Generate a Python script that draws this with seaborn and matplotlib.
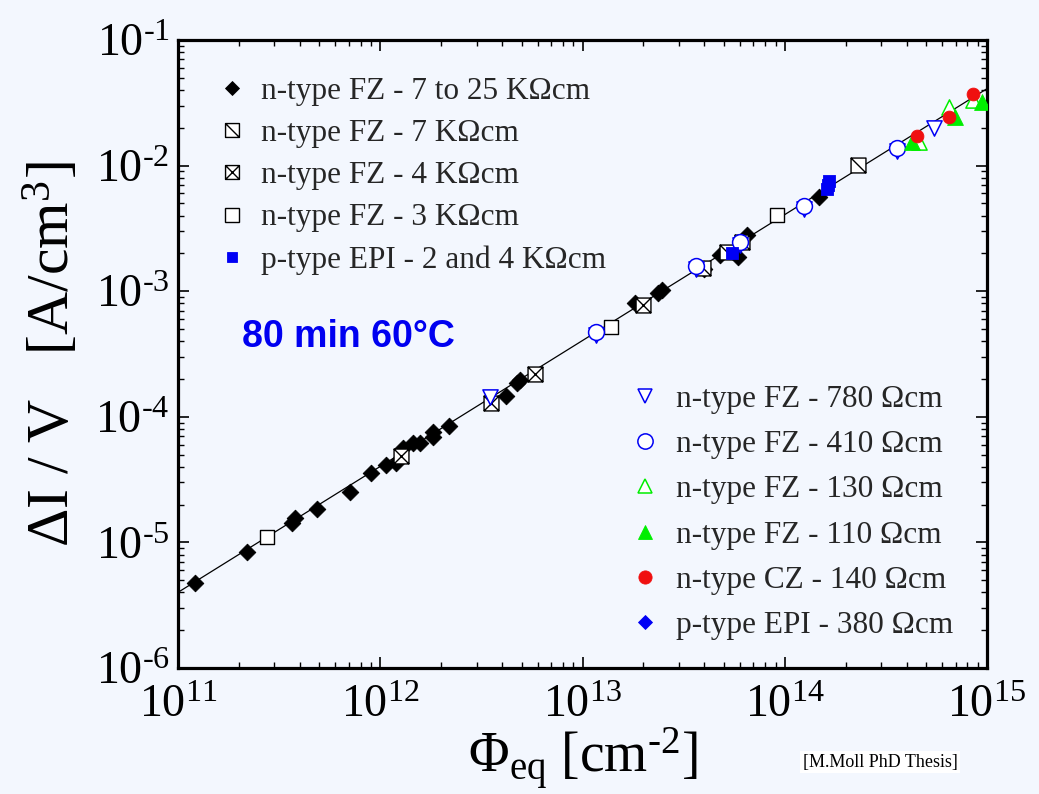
import numpy as np
import pandas as pd
import matplotlib
matplotlib.use("Agg")
import matplotlib.pyplot as plt
import seaborn as sns
from matplotlib.path import Path
from matplotlib.lines import Line2D
from matplotlib.ticker import LogLocator, FuncFormatter, NullFormatter

# ---------------- data ----------------
fz25_x = [1.21e11, 2.20e11, 3.65e11, 3.79e11, 4.85e11, 7.08e11, 9.0e11, 1.07e12, 1.20e12,
          1.30e12, 1.46e12, 1.57e12, 1.83e12, 1.83e12, 2.19e12, 4.19e12, 4.73e12, 4.91e12,
          1.82e13, 2.37e13, 2.47e13, 3.99e13, 4.79e13, 5.89e13, 6.49e13, 1.47e14]
fz25_y = [4.72e-6, 8.43e-6, 1.42e-5, 1.56e-5, 1.83e-5, 2.54e-5, 3.59e-5, 4.13e-5, 4.26e-5,
          5.61e-5, 6.22e-5, 6.15e-5, 6.87e-5, 7.61e-5, 8.45e-5, 1.47e-4, 1.85e-4, 1.96e-4,
          8.0e-4, 9.62e-4, 1.02e-3, 1.50e-3, 1.94e-3, 1.88e-3, 2.80e-3, 5.60e-3]
fz7_x = [3.96e13, 5.16e13, 2.31e14]
fz7_y = [1.52e-3, 2.06e-3, 1.01e-2]
fz4_x = [1.27e12, 3.53e12, 5.82e12, 1.98e13, 6.13e13]
fz4_y = [4.88e-5, 1.28e-4, 2.19e-4, 7.76e-4, 2.48e-3]
fz3_x = [2.77e11, 1.39e13, 9.12e13]
fz3_y = [1.11e-5, 5.22e-4, 4.05e-3]
epi24_x = [5.47e13, 1.62e14, 1.64e14, 1.65e14]
epi24_y = [2.0e-3, 6.5e-3, 7.0e-3, 7.5e-3]
fz780_x = [3.49e12, 1.17e13, 3.64e13, 6.01e13, 1.25e14, 3.60e14, 5.48e14]
fz780_y = [1.45e-4, 4.50e-4, 1.50e-3, 2.35e-3, 4.55e-3, 1.30e-2, 2.0e-2]
fz410_x = [1.17e13, 3.64e13, 6.01e13, 1.25e14, 3.60e14]
fz410_y = [4.76e-4, 1.59e-3, 2.48e-3, 4.80e-3, 1.37e-2]
fz130_x = [4.60e14, 6.49e14, 8.53e14]
fz130_y = [1.54e-2, 2.93e-2, 3.33e-2]
fz110_x = [4.24e14, 6.95e14, 9.42e14]
fz110_y = [1.55e-2, 2.45e-2, 3.23e-2]
cz140_x = [4.53e14, 6.49e14, 8.55e14]
cz140_y = [1.72e-2, 2.42e-2, 3.70e-2]
epi380_x = []
epi380_y = []

fit_x = [1e11, 1e15]
fit_y = [4.0e-6, 4.1e-2]

labels = ["n-type FZ - 7 to 25 KΩcm", "n-type FZ - 7 KΩcm", "n-type FZ - 4 KΩcm",
          "n-type FZ - 3 KΩcm", "p-type EPI - 2 and 4 KΩcm",
          "n-type FZ - 780 Ωcm", "n-type FZ - 410 Ωcm", "n-type FZ - 130 Ωcm",
          "n-type FZ - 110 Ωcm", "n-type CZ - 140 Ωcm", "p-type EPI - 380 Ωcm"]
xs = [fz25_x, fz7_x, fz4_x, fz3_x, epi24_x, fz780_x, fz410_x, fz130_x, fz110_x, cz140_x, epi380_x]
ys = [fz25_y, fz7_y, fz4_y, fz3_y, epi24_y, fz780_y, fz410_y, fz130_y, fz110_y, cz140_y, epi380_y]

df = pd.concat([pd.DataFrame({"phi": x, "dIV": y, "series": lab})
                for lab, x, y in zip(labels, xs, ys)], ignore_index=True)

# ---------------- styling ----------------
M, L, C = Path.MOVETO, Path.LINETO, Path.CLOSEPOLY
sq = [(-1, -1), (1, -1), (1, 1), (-1, 1), (-1, -1)]
bs_marker = Path(sq + [(-1, 1), (1, -1)], [M, L, L, L, C, M, L])
x_marker = Path(sq + [(-1, 1), (1, -1), (-1, -1), (1, 1)], [M, L, L, L, C, M, L, M, L])

BLUE = "#0000f5"
GREEN = "#00ee00"
RED = "#f01010"
styles = {
    labels[0]: dict(marker="D", s=72, fc="black", ec="black", lw=0.6, lms=7.6),
    labels[1]: dict(marker=bs_marker, s=115, fc="white", ec="black", lw=1.0, lms=10),
    labels[2]: dict(marker=x_marker, s=115, fc="white", ec="black", lw=1.0, lms=10),
    labels[3]: dict(marker="s", s=115, fc="white", ec="black", lw=1.0, lms=10),
    labels[4]: dict(marker="s", s=70, fc=BLUE, ec=BLUE, lw=0.6, lms=7),
    labels[5]: dict(marker="v", s=120, fc="white", ec=BLUE, lw=1.1, lms=10.5),
    labels[6]: dict(marker="o", s=130, fc="white", ec=BLUE, lw=1.1, lms=11),
    labels[7]: dict(marker="^", s=120, fc="white", ec=GREEN, lw=1.1, lms=10.5),
    labels[8]: dict(marker="^", s=130, fc=GREEN, ec=GREEN, lw=0.6, lms=10.5),
    labels[9]: dict(marker="o", s=85, fc=RED, ec=RED, lw=0.6, lms=9.5),
    labels[10]: dict(marker="D", s=72, fc=BLUE, ec=BLUE, lw=0.6, lms=7.6),
}

BG = "#f3f7fe"
sns.set_theme(style="ticks")
plt.rcParams["font.family"] = ["Liberation Serif", "DejaVu Serif"]
plt.rcParams["mathtext.fontset"] = "custom"
plt.rcParams["mathtext.rm"] = "Liberation Serif"
plt.rcParams["mathtext.it"] = "Liberation Serif:italic"
plt.rcParams["mathtext.default"] = "regular"

fig = plt.figure(figsize=(10.39, 7.94), dpi=100, facecolor=BG)
ax = fig.add_axes([0.1713, 0.1587, 0.7787, 0.7909])
ax.set_facecolor(BG)
ax.set_xscale("log")
ax.set_yscale("log")

sns.lineplot(x=fit_x, y=fit_y, color="black", lw=0.9, ax=ax, zorder=1)

draw_order = [labels[i] for i in [0, 3, 1, 2, 5, 6, 4, 7, 8, 9, 10]]
for z, name in enumerate(draw_order):
    sub = df[df["series"] == name]
    if sub.empty:
        continue
    st = styles[name]
    sns.scatterplot(data=sub, x="phi", y="dIV", marker=st["marker"], s=st["s"],
                    facecolor=st["fc"], edgecolor=st["ec"], linewidth=st["lw"],
                    ax=ax, zorder=3 + z, legend=False)

ax.set_xlim(1e11, 1e15)
ax.set_ylim(1e-6, 1e-1)

def fmt(v, pos):
    e = int(round(np.log10(v)))
    return "10$^{\\text{%d}}$" % e

for axis in (ax.xaxis, ax.yaxis):
    axis.set_major_locator(LogLocator(base=10, numticks=20))
    axis.set_minor_locator(LogLocator(base=10, subs=np.arange(2, 10), numticks=20))
    axis.set_major_formatter(FuncFormatter(fmt))
    axis.set_minor_formatter(NullFormatter())

ax.tick_params(which="both", direction="in", top=True, right=True, colors="black")
ax.tick_params(which="major", length=8, width=1.2, labelsize=33)
ax.tick_params(which="minor", length=4.5, width=1.0)
ax.tick_params(axis="y", which="major", pad=6)
ax.tick_params(axis="x", which="major", pad=12)
for sp in ax.spines.values():
    sp.set_linewidth(2.3)
    sp.set_color("black")

ax.set_xlabel("Φ$_{\\text{eq}}$ [cm$^{\\text{-2}}$]", fontsize=40, labelpad=-1, color="black")
ax.set_ylabel("ΔI / V   [A/cm$^{3}$]", fontsize=43, labelpad=9, color="black")

# legends
def handle(name):
    st = styles[name]
    return Line2D([], [], ls="none", marker=st["marker"], markersize=st["lms"],
                  markerfacecolor=st["fc"], markeredgecolor=st["ec"],
                  markeredgewidth=st["lw"] if st["fc"] == "white" else 0.6)

prop = {"family": ["Liberation Serif", "DejaVu Serif"], "size": 22.5}
leg1 = ax.legend([handle(n) for n in labels[:5]], labels[:5], loc="upper left",
                 bbox_to_anchor=(0.047, 0.941), frameon=False, prop=prop,
                 handlelength=1.0, handletextpad=0.45, labelspacing=0.42,
                 borderpad=0, borderaxespad=0)
ax.add_artist(leg1)
leg2 = ax.legend([handle(n) for n in labels[5:]], labels[5:], loc="upper left",
                 bbox_to_anchor=(0.5575, 0.451), frameon=False, prop=prop,
                 handlelength=1.0, handletextpad=0.5, labelspacing=0.52,
                 borderpad=0, borderaxespad=0)

ax.text(0.079, 0.511, "80 min 60°C", transform=ax.transAxes, ha="left", va="baseline",
        fontsize=27, fontweight="bold", color="#0000f0", family="Liberation Sans")

fig.text(0.847, 0.040, "[M.Moll PhD Thesis]", ha="center", va="center", fontsize=13,
         family="Liberation Serif", color="black",
         bbox=dict(facecolor="white", edgecolor="none", pad=2))

fig.savefig("out.png", dpi=100, facecolor=BG)
